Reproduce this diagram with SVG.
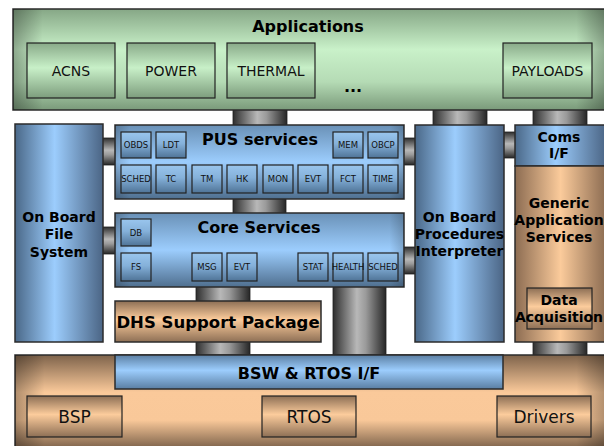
<svg xmlns="http://www.w3.org/2000/svg" width="604" height="446" viewBox="0 0 604 446">
<defs>
<linearGradient id="gGreen" x1="0" y1="0" x2="0" y2="1">
<stop offset="0" stop-color="#86a786"/><stop offset="0.4" stop-color="#c9f1c9"/><stop offset="0.72" stop-color="#b5dbb5"/><stop offset="1" stop-color="#7a9a7a"/>
</linearGradient>
<linearGradient id="gGreenSub" x1="0" y1="0" x2="0" y2="1">
<stop offset="0" stop-color="#89aa89"/><stop offset="0.45" stop-color="#c8f0c8"/><stop offset="1" stop-color="#7d9d7d"/>
</linearGradient>
<linearGradient id="gBlueV" x1="0" y1="0" x2="0" y2="1">
<stop offset="0" stop-color="#6a91b7"/><stop offset="0.5" stop-color="#9ccdfd"/><stop offset="1" stop-color="#4f6f8f"/>
</linearGradient>
<linearGradient id="gBlueH" x1="0" y1="0" x2="1" y2="0">
<stop offset="0" stop-color="#4a6888"/><stop offset="0.45" stop-color="#9ccdfd"/><stop offset="1" stop-color="#4b6585"/>
</linearGradient>
<linearGradient id="gBlueSub" x1="0" y1="0" x2="0" y2="1">
<stop offset="0" stop-color="#9ac6ee"/><stop offset="0.45" stop-color="#85b1da"/><stop offset="1" stop-color="#4f7396"/>
</linearGradient>
<linearGradient id="gBsw" x1="0" y1="0" x2="0" y2="1">
<stop offset="0" stop-color="#5c80a4"/><stop offset="0.45" stop-color="#9ccdfd"/><stop offset="1" stop-color="#5a7ea2"/>
</linearGradient>
<linearGradient id="gTanH" x1="0" y1="0" x2="1" y2="0">
<stop offset="0" stop-color="#8c6c52"/><stop offset="0.5" stop-color="#fbcb9b"/><stop offset="1" stop-color="#8c6c52"/>
</linearGradient>
<linearGradient id="gTanV" x1="0" y1="0" x2="0" y2="1">
<stop offset="0" stop-color="#8d6f55"/><stop offset="0.45" stop-color="#fccc9c"/><stop offset="1" stop-color="#8d6f55"/>
</linearGradient>
<linearGradient id="gTanBig" x1="0" y1="0" x2="0" y2="1">
<stop offset="0" stop-color="#7e634b"/><stop offset="0.4" stop-color="#fac99a"/><stop offset="0.7" stop-color="#f9c899"/><stop offset="1" stop-color="#7e634b"/>
</linearGradient>
<linearGradient id="gShade" x1="0" y1="0" x2="1" y2="0">
<stop offset="0" stop-color="#000" stop-opacity="0.3"/><stop offset="0.05" stop-color="#000" stop-opacity="0"/><stop offset="0.95" stop-color="#000" stop-opacity="0"/><stop offset="1" stop-color="#000" stop-opacity="0.3"/>
</linearGradient>
<linearGradient id="gStubV" x1="0" y1="0" x2="1" y2="0">
<stop offset="0" stop-color="#2e2e2e"/><stop offset="0.45" stop-color="#b8b8b8"/><stop offset="0.62" stop-color="#9a9a9a"/><stop offset="1" stop-color="#262626"/>
</linearGradient>
<linearGradient id="gStubH" x1="0" y1="0" x2="0" y2="1">
<stop offset="0" stop-color="#2e2e2e"/><stop offset="0.45" stop-color="#b8b8b8"/><stop offset="0.62" stop-color="#9a9a9a"/><stop offset="1" stop-color="#262626"/>
</linearGradient>
</defs>
<style>
.box{stroke:#2b2b2b;stroke-width:1.5}
.sub{stroke:#222;stroke-width:1.2}
.shade{fill:url(#gShade);stroke:none}
.stubv{fill:url(#gStubV);stroke:#222;stroke-width:0.8}
.stubh{fill:url(#gStubH);stroke:#222;stroke-width:0.8}
text{font-family:"DejaVu Sans","Verdana",sans-serif;fill:#000;text-anchor:middle}
.t{font-weight:bold;font-size:16px}
.m{font-weight:bold;font-size:14px}
.r{font-size:14px;fill:#111}
.s{font-size:8.5px;fill:#111}
.b{font-size:17px;fill:#111}
</style>

<g id="connectors">
<rect class="stubv" x="233" y="109" width="54" height="17"/>
<rect class="stubv" x="433" y="109" width="54" height="17"/>
<rect class="stubv" x="533" y="109" width="54" height="17"/>
<rect class="stubv" x="233" y="198" width="53" height="16"/>
<rect class="stubv" x="196" y="286" width="54" height="16"/>
<rect class="stubv" x="196" y="341" width="54" height="15"/>
<rect class="stubv" x="333" y="286" width="53" height="70"/>
<rect class="stubv" x="533" y="341" width="54" height="15"/>
<rect class="stubh" x="102" y="138" width="14" height="27"/>
<rect class="stubh" x="102" y="227" width="14" height="27"/>
<rect class="stubh" x="403" y="138" width="13" height="27"/>
<rect class="stubh" x="403" y="247" width="13" height="27"/>
<rect class="stubh" x="503" y="132" width="13" height="26"/>
</g>

<g id="applications">
<rect class="box" x="13" y="9" width="593" height="101" fill="url(#gGreen)"/>
<rect class="shade" x="13" y="9" width="593" height="101"/>
<text class="t" x="308" y="32">Applications</text>
<text class="t" x="353" y="92">...</text>
</g>
<g id="acns"><rect class="sub" x="27" y="43" width="88" height="55" fill="url(#gGreenSub)"/><text class="r" x="71" y="76">ACNS</text></g>
<g id="power"><rect class="sub" x="127" y="43" width="88" height="55" fill="url(#gGreenSub)"/><text class="r" x="171" y="76">POWER</text></g>
<g id="thermal"><rect class="sub" x="227" y="43" width="88" height="55" fill="url(#gGreenSub)"/><text class="r" x="271" y="76">THERMAL</text></g>
<g id="payloads"><rect class="sub" x="503" y="43" width="89" height="55" fill="url(#gGreenSub)"/><text class="r" x="547.5" y="76">PAYLOADS</text></g>

<g id="obfs">
<rect class="box" x="15" y="124" width="88" height="218" fill="url(#gBlueH)"/>
<text class="m" x="59" y="222">On Board</text>
<text class="m" x="59" y="239">File</text>
<text class="m" x="59" y="257">System</text>
</g>

<g id="pus">
<rect class="box" x="115" y="125" width="289" height="74" fill="url(#gBlueV)"/>
<rect class="shade" x="115" y="125" width="289" height="74" opacity="0.6"/>
<text class="t" x="260" y="145">PUS services</text>
</g>
<g id="pus-obds"><rect class="sub" x="121" y="132" width="30" height="26" fill="url(#gBlueSub)"/><text class="s" x="136" y="148">OBDS</text></g>
<g id="pus-ldt"><rect class="sub" x="156" y="132" width="30" height="26" fill="url(#gBlueSub)"/><text class="s" x="171" y="148">LDT</text></g>
<g id="pus-mem"><rect class="sub" x="333" y="132" width="30" height="26" fill="url(#gBlueSub)"/><text class="s" x="348" y="148">MEM</text></g>
<g id="pus-obcp"><rect class="sub" x="368" y="132" width="30" height="26" fill="url(#gBlueSub)"/><text class="s" x="383" y="148">OBCP</text></g>
<g id="pus-sched"><rect class="sub" x="121" y="165" width="30" height="28" fill="url(#gBlueSub)"/><text class="s" x="136" y="182">SCHED</text></g>
<g id="pus-tc"><rect class="sub" x="156" y="165" width="30" height="28" fill="url(#gBlueSub)"/><text class="s" x="171" y="182">TC</text></g>
<g id="pus-tm"><rect class="sub" x="192" y="165" width="30" height="28" fill="url(#gBlueSub)"/><text class="s" x="207" y="182">TM</text></g>
<g id="pus-hk"><rect class="sub" x="227" y="165" width="30" height="28" fill="url(#gBlueSub)"/><text class="s" x="242" y="182">HK</text></g>
<g id="pus-mon"><rect class="sub" x="263" y="165" width="30" height="28" fill="url(#gBlueSub)"/><text class="s" x="278" y="182">MON</text></g>
<g id="pus-evt"><rect class="sub" x="298" y="165" width="30" height="28" fill="url(#gBlueSub)"/><text class="s" x="313" y="182">EVT</text></g>
<g id="pus-fct"><rect class="sub" x="333" y="165" width="30" height="28" fill="url(#gBlueSub)"/><text class="s" x="348" y="182">FCT</text></g>
<g id="pus-time"><rect class="sub" x="368" y="165" width="30" height="28" fill="url(#gBlueSub)"/><text class="s" x="383" y="182">TIME</text></g>

<g id="core">
<rect class="box" x="115" y="213" width="289" height="74" fill="url(#gBlueV)"/>
<rect class="shade" x="115" y="213" width="289" height="74" opacity="0.6"/>
<text class="t" x="259" y="233">Core Services</text>
</g>
<g id="core-db"><rect class="sub" x="121" y="219" width="30" height="27" fill="url(#gBlueSub)"/><text class="s" x="136" y="236">DB</text></g>
<g id="core-fs"><rect class="sub" x="121" y="253" width="30" height="28" fill="url(#gBlueSub)"/><text class="s" x="136" y="270">FS</text></g>
<g id="core-msg"><rect class="sub" x="192" y="253" width="30" height="28" fill="url(#gBlueSub)"/><text class="s" x="207" y="270">MSG</text></g>
<g id="core-evt"><rect class="sub" x="227" y="253" width="30" height="28" fill="url(#gBlueSub)"/><text class="s" x="242" y="270">EVT</text></g>
<g id="core-stat"><rect class="sub" x="298" y="253" width="30" height="28" fill="url(#gBlueSub)"/><text class="s" x="313" y="270">STAT</text></g>
<g id="core-health"><rect class="sub" x="333" y="253" width="30" height="28" fill="url(#gBlueSub)"/><text class="s" x="348" y="270">HEALTH</text></g>
<g id="core-sched"><rect class="sub" x="368" y="253" width="30" height="28" fill="url(#gBlueSub)"/><text class="s" x="383" y="270">SCHED</text></g>

<g id="dhs">
<rect class="box" x="115" y="301" width="206" height="41" fill="url(#gTanV)"/>
<text class="t" x="218" y="328" style="font-size:16.5px">DHS Support Package</text>
</g>

<g id="obpi">
<rect class="box" x="415" y="125" width="89" height="217" fill="url(#gBlueH)"/>
<text class="m" x="459.5" y="222">On Board</text>
<text class="m" x="459.5" y="239">Procedures</text>
<text class="m" x="459.5" y="256">Interpreter</text>
</g>

<g id="coms">
<rect class="box" x="515" y="125" width="91" height="41" fill="url(#gBlueH)"/>
<text class="m" x="559" y="142">Coms</text>
<text class="m" x="559" y="158">I/F</text>
</g>

<g id="gas">
<rect class="box" x="515" y="166" width="91" height="176" fill="url(#gTanH)"/>
<text class="m" x="559" y="208">Generic</text>
<text class="m" x="559" y="225">Application</text>
<text class="m" x="559" y="242">Services</text>
</g>

<g id="data-acquisition">
<rect class="sub" x="527" y="288" width="65" height="41" fill="url(#gTanV)"/>
<text class="m" x="559" y="305">Data</text>
<text class="m" x="559" y="322">Acquisition</text>
</g>

<g id="bsw-base">
<rect class="box" x="15" y="355" width="591" height="93" fill="url(#gTanBig)"/>
<rect class="shade" x="15" y="355" width="591" height="93"/>
</g>
<g id="bsw-rtos-if">
<rect class="box" x="115" y="355" width="388" height="34" fill="url(#gBsw)"/>
<text class="t" x="309" y="379">BSW &amp; RTOS I/F</text>
</g>
<g id="bsp"><rect class="sub" x="27" y="396" width="95" height="41" fill="url(#gTanV)"/><text class="b" x="74.5" y="423">BSP</text></g>
<g id="rtos"><rect class="sub" x="262" y="396" width="94" height="41" fill="url(#gTanV)"/><text class="b" x="309" y="423">RTOS</text></g>
<g id="drivers"><rect class="sub" x="497" y="396" width="94" height="41" fill="url(#gTanV)"/><text class="b" x="544" y="423">Drivers</text></g>
</svg>
